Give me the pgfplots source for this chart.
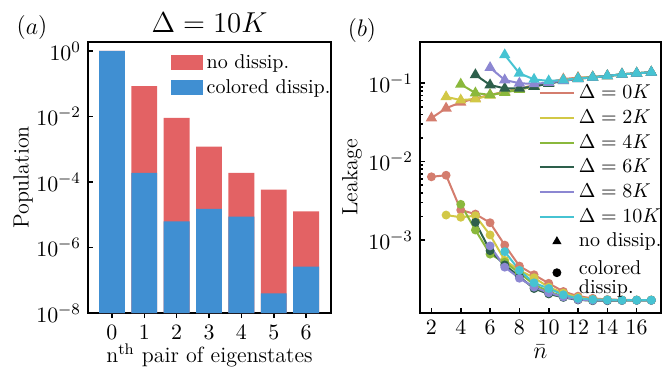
\documentclass[border=0pt]{standalone}
\usepackage{fontspec}
\usepackage{pgfplots}
\pgfplotsset{compat=1.18}
\definecolor{cred}{HTML}{E36264}
\definecolor{cblue}{HTML}{408FD2}
\definecolor{c0}{RGB}{212,125,110}
\definecolor{c2}{RGB}{210,200,70}
\definecolor{c4}{RGB}{138,184,60}
\definecolor{c6}{RGB}{45,95,75}
\definecolor{c8}{RGB}{140,135,210}
\definecolor{c10}{RGB}{70,195,210}
\pgfplotsset{
  barlegend/.style={legend image code/.code={\fill[##1] (0pt,-3.75pt) rectangle (16pt,3.75pt);}},
  common/.style={
    scale only axis,
    axis line style={line width=1pt},
    tick style={line width=0.8pt, black},
    major tick length=2.5pt, minor tick length=1.5pt,
    tick align=inside, tick pos=left,
    tick label style={font=\fontsize{11}{13}\selectfont},
    label style={font=\fontsize{11}{13}\selectfont},
  },
  tri/.style={line width=1pt, mark=triangle*, mark size=2.3pt, forget plot},
  cir/.style={line width=1pt, mark=*, mark size=1.7pt, forget plot},
}
\begin{document}
\begin{tikzpicture}
\path[use as bounding box] (0pt,0pt) rectangle (335pt,187.5pt);
\begin{axis}[common, name=left,
  at={(44pt,31pt)}, anchor=south west, width=121.5pt, height=135.5pt,
  ymode=log, log origin=infty,
  ymin=1e-8, ymax=1.88,
  xmin=-0.74, xmax=6.77,
  xtick={0,1,2,3,4,5,6},
  ytick={1,1e-2,1e-4,1e-6,1e-8},
  yminorticks=false,
  ybar, bar width=0.8,
  ylabel={Population},
  ylabel style={at={(axis description cs:-0.267,0.5)}, anchor=center},
  xlabel={n\textsuperscript{th} pair of eigenstates},
  xlabel style={at={(axis description cs:0.5,-0.155)}, anchor=center},
  title={$\Delta = 10K$},
  title style={font=\fontsize{14}{16}\selectfont, at={(0.5,1)}, anchor=base, yshift=-1pt},
  legend cell align=left,
  legend style={at={(1.04,0.985)}, anchor=north east, draw=none, fill=none,
    font=\fontsize{10}{12}\selectfont},
]
\addplot[fill=cred, draw=none, bar shift=0pt, barlegend] coordinates {
 (0,1.0) (1,0.085) (2,9.1e-3) (3,1.2e-3) (4,1.9e-4) (5,5.8e-5) (6,1.26e-5)};
\addlegendentry{no dissip.}
\addplot[fill=cblue, draw=none, bar shift=0pt, barlegend] coordinates {
 (0,1.0) (1,1.9e-4) (2,6.3e-6) (3,1.5e-5) (4,8.7e-6) (5,4.0e-8) (6,2.6e-7)};
\addlegendentry{colored dissip.}
\end{axis}
\node[anchor=base, font=\fontsize{12.5}{14}\selectfont] at (left.north west) [xshift=-28pt, yshift=4pt] {$(a)$};

\begin{axis}[common, name=right,
  at={(210pt,31pt)}, anchor=south west, width=120.5pt, height=135.5pt,
  ymode=log,
  ymin=1.17e-4, ymax=0.336,
  xmin=1.22, xmax=17.66,
  xtick={2,4,6,8,10,12,14,16},
  ytick={1e-3,1e-2,1e-1},
  ylabel={Leakage},
  ylabel style={at={(axis description cs:-0.282,0.5)}, anchor=center},
  xlabel={$\bar{n}$},
  xlabel style={font=\fontsize{13}{15}\selectfont, at={(axis description cs:0.5,-0.144)}, anchor=center},
  legend cell align=left,
  legend style={at={(1.045,0.872)}, anchor=north east, draw=none, fill=none,
    font=\fontsize{10}{12}\selectfont},
]
\addplot[tri, c0] coordinates {(2,0.036)(3,0.048)(4,0.057)(5,0.064)(6,0.071)(7,0.078)(8,0.086)(9,0.094)(10,0.103)(11,0.113)(12,0.118)(13,0.120)(14,0.124)(15,0.130)(16,0.134)(17,0.138)};
\addplot[cir, c0] coordinates {(2,6.4e-3)(3,6.7e-3)(4,2.41e-3)(5,2.14e-3)(6,1.66e-3)(7,8.6e-4)(8,4.65e-4)(9,3.6e-4)(10,2.8e-4)(11,2.2e-4)(12,1.92e-4)(13,1.8e-4)(14,1.74e-4)(15,1.72e-4)(16,1.71e-4)(17,1.71e-4)};
\addplot[tri, c2] coordinates {(3,0.067)(4,0.061)(5,0.063)(6,0.070)(7,0.077)(8,0.085)(9,0.093)(10,0.102)(11,0.110)(12,0.116)(13,0.120)(14,0.124)(15,0.130)(16,0.134)(17,0.138)};
\addplot[cir, c2] coordinates {(3,2.08e-3)(4,1.95e-3)(5,2.04e-3)(6,1.16e-3)(7,5.5e-4)(8,4.1e-4)(9,3.3e-4)(10,2.5e-4)(11,2.1e-4)(12,1.85e-4)(13,1.75e-4)(14,1.72e-4)(15,1.71e-4)(16,1.71e-4)(17,1.71e-4)};
\addplot[tri, c4] coordinates {(4,0.097)(5,0.075)(6,0.071)(7,0.076)(8,0.083)(9,0.091)(10,0.100)(11,0.108)(12,0.115)(13,0.119)(14,0.124)(15,0.130)(16,0.134)(17,0.138)};
\addplot[cir, c4] coordinates {(4,2.85e-3)(5,1.34e-3)(6,6.6e-4)(7,5.2e-4)(8,3.8e-4)(9,2.7e-4)(10,2.2e-4)(11,1.9e-4)(12,1.75e-4)(13,1.7e-4)(14,1.7e-4)(15,1.7e-4)(16,1.7e-4)(17,1.7e-4)};
\addplot[tri, c6] coordinates {(5,0.128)(6,0.095)(7,0.086)(8,0.086)(9,0.091)(10,0.099)(11,0.107)(12,0.114)(13,0.119)(14,0.124)(15,0.130)(16,0.134)(17,0.138)};
\addplot[cir, c6] coordinates {(5,1.68e-3)(6,7.3e-4)(7,4.8e-4)(8,3.4e-4)(9,2.4e-4)(10,2.05e-4)(11,1.85e-4)(12,1.72e-4)(13,1.68e-4)(14,1.68e-4)(15,1.69e-4)(16,1.7e-4)(17,1.7e-4)};
\addplot[tri, c8] coordinates {(6,0.158)(7,0.110)(8,0.100)(9,0.098)(10,0.102)(11,0.108)(12,0.114)(13,0.119)(14,0.124)(15,0.130)(16,0.134)(17,0.138)};
\addplot[cir, c8] coordinates {(6,8.4e-4)(7,4.5e-4)(8,3.25e-4)(9,2.5e-4)(10,2.12e-4)(11,1.88e-4)(12,1.74e-4)(13,1.7e-4)(14,1.7e-4)(15,1.7e-4)(16,1.7e-4)(17,1.7e-4)};
\addplot[tri, c10] coordinates {(7,0.23)(8,0.134)(9,0.112)(10,0.107)(11,0.110)(12,0.115)(13,0.119)(14,0.124)(15,0.130)(16,0.134)(17,0.138)};
\addplot[cir, c10] coordinates {(7,7.1e-4)(8,4.1e-4)(9,2.84e-4)(10,2.4e-4)(11,2.0e-4)(12,1.8e-4)(13,1.74e-4)(14,1.72e-4)(15,1.71e-4)(16,1.71e-4)(17,1.71e-4)};
\addlegendimage{c0, line width=1pt}\addlegendentry{$\Delta = 0K$}
\addlegendimage{c2, line width=1pt}\addlegendentry{$\Delta = 2K$}
\addlegendimage{c4, line width=1pt}\addlegendentry{$\Delta = 4K$}
\addlegendimage{c6, line width=1pt}\addlegendentry{$\Delta = 6K$}
\addlegendimage{c8, line width=1pt}\addlegendentry{$\Delta = 8K$}
\addlegendimage{c10, line width=1pt}\addlegendentry{$\Delta = 10K$}
\addlegendimage{only marks, mark=triangle*, black, mark size=2.3pt}\addlegendentry{no dissip.}
\addlegendimage{only marks, mark=*, black, mark size=2pt}\addlegendentry{\begin{tabular}[c]{@{}l@{}}colored\\[-2.5pt]dissip.\end{tabular}}
\end{axis}
\node[anchor=base, font=\fontsize{12.5}{14}\selectfont] at (right.north west) [xshift=-29pt, yshift=2.5pt] {$(b)$};
\end{tikzpicture}
\end{document}
